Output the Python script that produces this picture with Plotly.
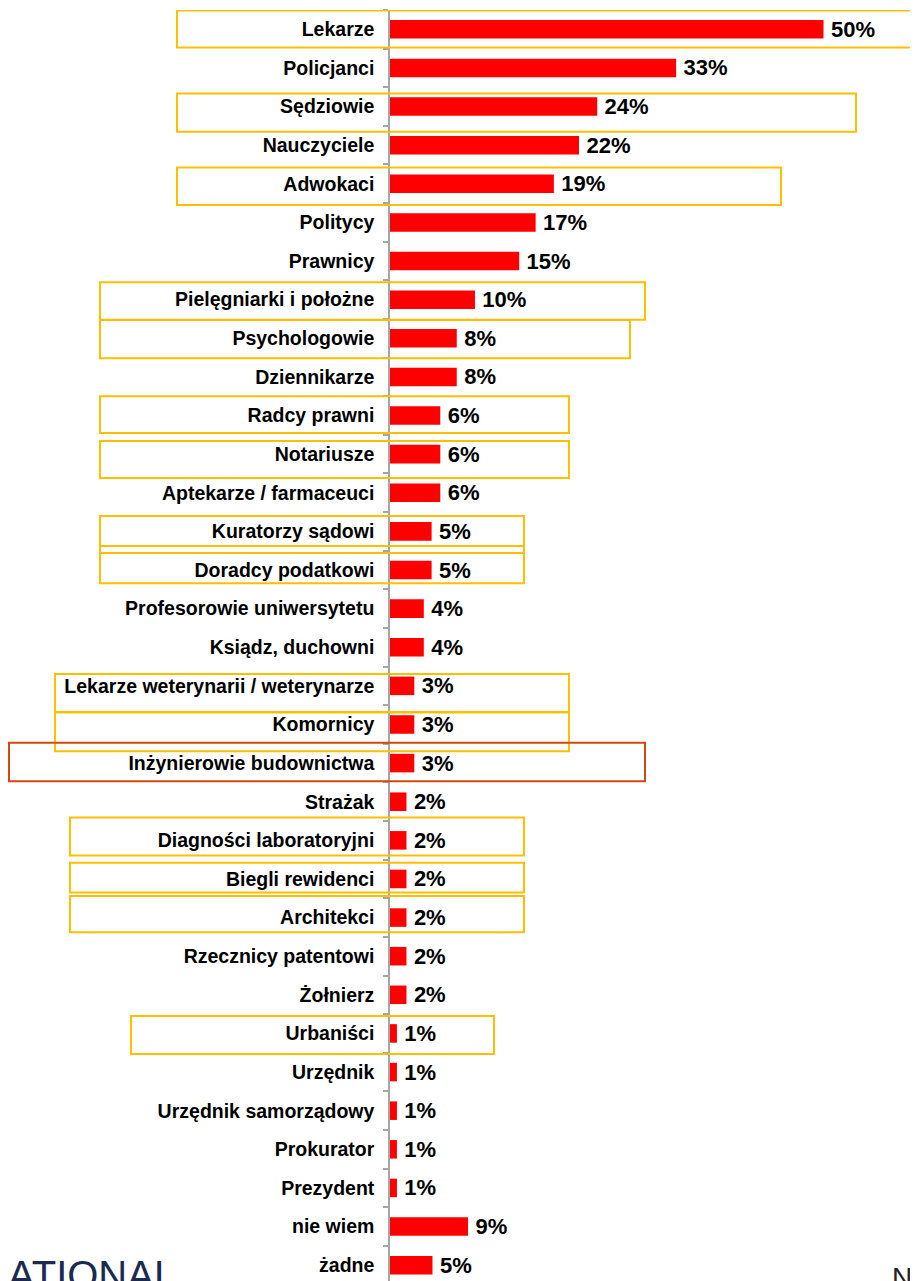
import plotly.graph_objects as go

# Dane: zawody i odsetek wskazań (%)
KATEGORIE = [
    "Lekarze", "Policjanci", "Sędziowie", "Nauczyciele", "Adwokaci",
    "Politycy", "Prawnicy", "Pielęgniarki i położne", "Psychologowie",
    "Dziennikarze", "Radcy prawni", "Notariusze", "Aptekarze / farmaceuci",
    "Kuratorzy sądowi", "Doradcy podatkowi", "Profesorowie uniwersytetu",
    "Ksiądz, duchowni", "Lekarze weterynarii / weterynarze", "Komornicy",
    "Inżynierowie budownictwa", "Strażak", "Diagności laboratoryjni",
    "Biegli rewidenci", "Architekci", "Rzecznicy patentowi", "Żołnierz",
    "Urbaniści", "Urzędnik", "Urzędnik samorządowy", "Prokurator",
    "Prezydent", "nie wiem", "żadne",
]
WARTOSCI = [
    50.0, 33.0, 23.9, 21.8, 18.9,
    16.8, 14.9, 9.8, 7.7,
    7.7, 5.8, 5.8, 5.8,
    4.8, 4.8, 3.9,
    3.9, 2.8, 2.8,
    2.8, 1.9, 1.9,
    1.9, 1.9, 1.9, 1.9,
    0.8, 0.8, 0.8, 0.8,
    0.8, 9.0, 4.9,
]

# Ramki wyróżniające (kategoria, lewa krawędź px, prawa krawędź px, dy góra, dy dół, kolor)
ZOLTY = "#FFBF00"
CIEMNY = "#D04A10"
RAMKI = [
    ("Lekarze", 177, 917, -0.49, 0.47, ZOLTY),
    ("Sędziowie", 177, 856, -0.34, 0.65, ZOLTY),
    ("Adwokaci", 177, 781, -0.42, 0.55, ZOLTY),
    ("Pielęgniarki i położne", 100, 645, -0.45, 0.52, ZOLTY),
    ("Psychologowie", 100, 630, -0.47, 0.52, ZOLTY),
    ("Radcy prawni", 100, 569, -0.50, 0.45, ZOLTY),
    ("Notariusze", 100, 569, -0.34, 0.62, ZOLTY),
    ("Kuratorzy sądowi", 100, 524, -0.40, 0.56, ZOLTY),
    ("Doradcy podatkowi", 100, 524, -0.62, 0.34, ZOLTY),
    ("Lekarze weterynarii / weterynarze", 55, 569, -0.31, 0.68, ZOLTY),
    ("Komornicy", 55, 569, -0.31, 0.69, ZOLTY),
    ("Inżynierowie budownictwa", 9, 645, -0.53, 0.47, CIEMNY),
    ("Diagności laboratoryjni", 70, 524, -0.59, 0.39, ZOLTY),
    ("Biegli rewidenci", 70, 524, -0.42, 0.35, ZOLTY),
    ("Architekci", 70, 524, -0.56, 0.38, ZOLTY),
    ("Urbaniści", 131, 494, -0.45, 0.53, ZOLTY),
]

# strona ma domyślny margines 8 px, więc wykres jest o tyle mniejszy
MARGINES_STRONY = 8
W, H = 918 - MARGINES_STRONY, 1281 - MARGINES_STRONY
OS_X = 390          # położenie osi kategorii na zrzucie (px)
PX_NA_PROC = 8.67   # szerokość 1 punktu procentowego (px)
szer_wykresu = 918 - OS_X


def px_na_paper(px):
    return (px - OS_X) / szer_wykresu


FONT = "Liberation Sans, Arial"

fig = go.Figure(
    go.Bar(
        x=WARTOSCI,
        y=KATEGORIE,
        orientation="h",
        width=0.48,
        marker_color="#FF0000",
        marker_line_width=0,
        texttemplate="\u2009%{x:.0f}%",
        textposition="outside",
        constraintext="none",
        cliponaxis=False,
        textfont=dict(family=FONT, size=22, color="black", weight="bold"),
    )
)

for kat, x0, x1, dy0, dy1, kolor in RAMKI:
    i = KATEGORIE.index(kat)
    fig.add_shape(
        type="rect",
        xref="paper", yref="y",
        x0=px_na_paper(x0), x1=px_na_paper(x1),
        y0=i + dy0, y1=i + dy1,
        line=dict(color=kolor, width=2),
        fillcolor="rgba(0,0,0,0)",
        layer="above",
    )

fig.update_xaxes(
    range=[0, szer_wykresu / PX_NA_PROC],
    visible=False,
    showgrid=False,
    zeroline=False,
)
fig.update_yaxes(
    type="category",
    categoryorder="array",
    categoryarray=KATEGORIE,
    range=[32.41, -0.5],
    showline=True,
    linecolor="#A6A6A6",
    linewidth=1.5,
    ticks="outside",
    tickson="boundaries",
    ticklen=5,
    tickcolor="#A6A6A6",
    tickwidth=1.5,
    showgrid=False,
    tickfont=dict(family=FONT, size=19.5, color="black", weight="bold"),
    ticklabelstandoff=10,
)

# Resztki logotypów przyciętych u dołu
fig.add_annotation(
    text="ATIONAL", xref="paper", yref="paper",
    x=px_na_paper(6), y=0, xanchor="left", yanchor="top",
    yshift=30, showarrow=False,
    font=dict(family=FONT, size=40, color="#1B2A4F"),
)
fig.add_annotation(
    text="N", xref="paper", yref="paper",
    x=px_na_paper(890), y=0, xanchor="left", yanchor="top",
    yshift=21, showarrow=False,
    font=dict(family=FONT, size=28, color="#222222"),
)

fig.update_layout(
    width=W,
    height=H,
    paper_bgcolor="white",
    plot_bgcolor="white",
    showlegend=False,
    margin=dict(l=OS_X - MARGINES_STRONY, r=0, t=10 - MARGINES_STRONY, b=0),
)

fig.write_html("out.html")
